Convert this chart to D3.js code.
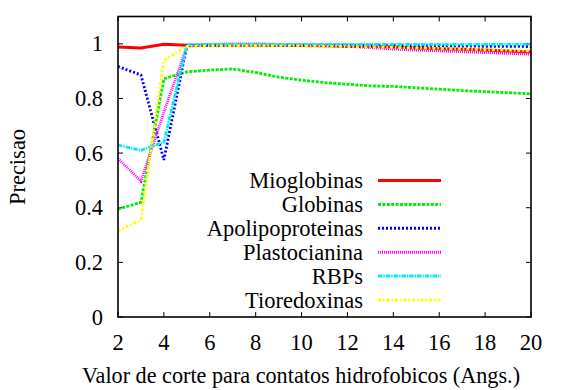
<!DOCTYPE html>
<html>
<head>
<meta charset="utf-8">
<script src="https://cdn.jsdelivr.net/npm/d3@7"></script>
<style>
body{margin:0;background:#fff;}
svg text{font-family:"Liberation Serif","Times New Roman",Times,Tinos,FreeSerif !important;}
</style>
</head>
<body>
<svg id="chart" width="564" height="390" style="font-family:'Liberation Serif','Times New Roman',Times,Tinos,FreeSerif"></svg>
<script>
const xValues = [2,3,4,5,6,7,8,9,10,11,12,13,14,15,16,17,18,19,20];
const mioglobinas = [0.988,0.985,0.998,0.995,0.995,0.995,0.995,0.995,0.994,0.993,0.99,0.99,0.988,0.985,0.982,0.98,0.977,0.974,0.97];
const globinas = [0.395,0.42,0.872,0.897,0.904,0.908,0.895,0.878,0.867,0.858,0.852,0.846,0.844,0.839,0.834,0.829,0.825,0.821,0.817];
const apolipoproteinas = [0.917,0.886,0.575,0.993,0.995,0.995,0.995,0.995,0.995,0.995,0.995,0.994,0.994,0.993,0.993,0.992,0.991,0.991,0.99];
const plastocianina = [0.58,0.497,0.75,0.99,0.998,1.0,1.0,0.998,0.996,0.994,0.991,0.986,0.981,0.977,0.974,0.971,0.968,0.965,0.962];
const rbps = [0.629,0.61,0.64,0.997,0.998,0.998,0.998,0.998,0.998,0.998,0.998,0.998,0.998,0.998,0.998,0.998,0.998,0.998,0.998];
const tioredoxinas = [0.316,0.355,0.94,0.99,0.992,0.993,0.993,0.993,0.992,0.991,0.99,0.989,0.987,0.985,0.983,0.981,0.979,0.977,0.974];
const seriesNames = ["Mioglobinas","Globinas","Apolipoproteinas","Plastocianina","RBPs","Tioredoxinas"];
const xTicks = [2,4,6,8,10,12,14,16,18,20];
const yTicks = [0,0.2,0.4,0.6,0.8,1];
const yTickLabels = ["0","0.2","0.4","0.6","0.8","1"];

const seriesValues = [mioglobinas,globinas,apolipoproteinas,plastocianina,rbps,tioredoxinas];
const colors = ["#ff0000","#00ee00","#0000ff","#ff00ff","#00eeee","#ffff00"];
const dashes = [null,"3,1.4","2,2","1,1","4.5,1,1.3,1","3,2,1.5,2"];

const FONT = "'Liberation Serif'";
const FS = 22.5;
const svg = d3.select("#chart");
function txt(sel){ return sel.style("font-family",FONT).attr("fill","#000"); }

const L=118,R=531,T=16.5,B=317;
const x = d3.scaleLinear().domain([2,20]).range([L,R]);
const y = d3.scaleLinear().domain([0,1.1]).range([B,T]);

const tl=5;
const g = svg.append("g");
xTicks.forEach(t=>{
  g.append("line").attr("x1",x(t)).attr("x2",x(t)).attr("y1",B).attr("y2",B-tl).attr("stroke","#000").attr("stroke-width",1);
  g.append("line").attr("x1",x(t)).attr("x2",x(t)).attr("y1",T).attr("y2",T+tl).attr("stroke","#000").attr("stroke-width",1);
  txt(g.append("text")).attr("x",x(t)).attr("y",350).attr("text-anchor","middle").attr("font-size",FS).text(t);
});
yTicks.forEach((t,i)=>{
  g.append("line").attr("x1",L).attr("x2",L+tl).attr("y1",y(t)).attr("y2",y(t)).attr("stroke","#000").attr("stroke-width",1);
  g.append("line").attr("x1",R).attr("x2",R-tl).attr("y1",y(t)).attr("y2",y(t)).attr("stroke","#000").attr("stroke-width",1);
  txt(g.append("text")).attr("x",103).attr("y",y(t)+7.5).attr("text-anchor","end").attr("font-size",FS).text(yTickLabels[i]);
});

const line = d3.line().x((d,i)=>x(xValues[i])).y(d=>y(d));
svg.append("defs").append("clipPath").attr("id","clip").append("rect").attr("x",L).attr("y",T).attr("width",R-L).attr("height",B-T);

const ly0 = 180.5, lstep = 23.9;
seriesValues.forEach((vals,k)=>{
  const p = svg.append("path").datum(vals).attr("d",line).attr("fill","none")
    .attr("stroke",colors[k]).attr("stroke-width",k===0?3:2.8).attr("clip-path","url(#clip)");
  if(dashes[k]) p.attr("stroke-dasharray",dashes[k]);
  const ly = ly0 + k*lstep;
  txt(svg.append("text")).attr("x",363).attr("y",ly+7.8).attr("text-anchor","end").attr("font-size",FS).text(seriesNames[k]);
  const s = svg.append("line").attr("x1",378).attr("x2",441).attr("y1",ly).attr("y2",ly)
    .attr("stroke",colors[k]).attr("stroke-width",3);
  if(dashes[k]) s.attr("stroke-dasharray",dashes[k]);
});

svg.append("rect").attr("x",L).attr("y",T).attr("width",R-L).attr("height",B-T)
  .attr("fill","none").attr("stroke","#000").attr("stroke-width",1.6);

txt(svg.append("text")).attr("x",301).attr("y",383).attr("text-anchor","middle").attr("font-size",22.2)
  .text("Valor de corte para contatos hidrofobicos (Angs.)");
txt(svg.append("text")).attr("transform","translate(25,167) rotate(-90)").attr("text-anchor","middle").attr("font-size",FS)
  .text("Precisao");
</script>
</body>
</html>
